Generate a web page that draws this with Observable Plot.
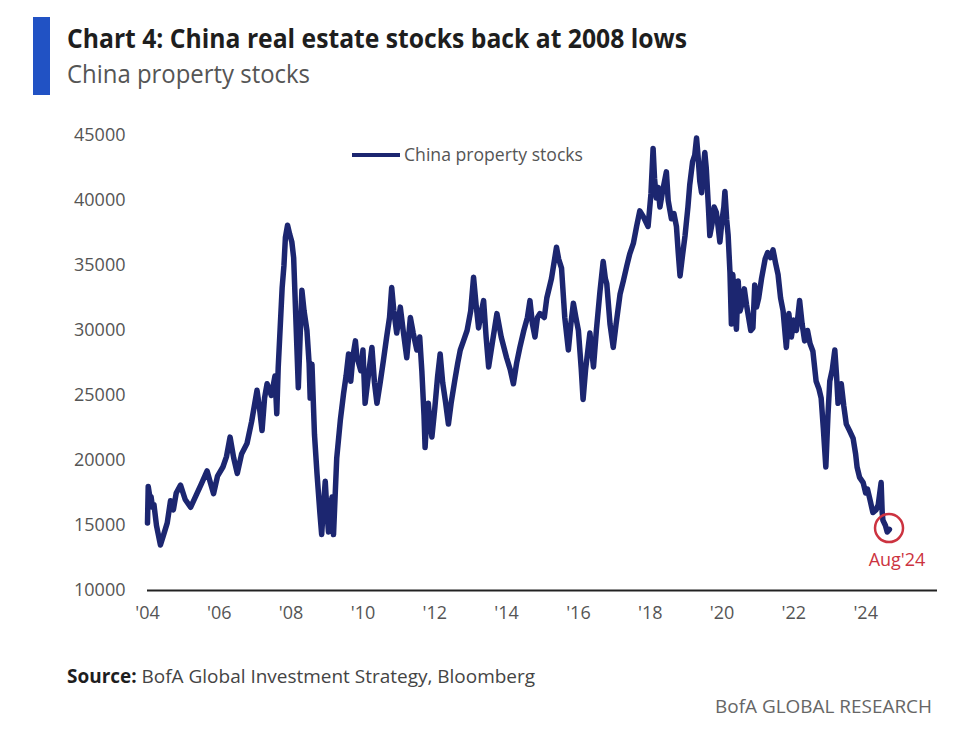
<!DOCTYPE html>
<html><head><meta charset="utf-8">
<script src="https://cdn.jsdelivr.net/npm/d3@7"></script>
<script src="https://cdn.jsdelivr.net/npm/@observablehq/plot@0.6"></script>
<style>
body{margin:0;background:#fff;font-family:"Open Sans",sans-serif;}
#wrap{position:relative;width:974px;height:744px;overflow:hidden;background:#fff;}
.abs{position:absolute;white-space:nowrap;line-height:1;transform-origin:0 50%;display:inline-block;}
#bar{position:absolute;left:33px;top:17px;width:17px;height:78px;background:#2152c4;}
#title{left:67px;top:24px;font-size:27px;font-weight:700;color:#1e1e1e;}
#subtitle{left:67px;top:61px;font-size:25px;color:#555;}
#legline{position:absolute;left:352px;top:153px;width:48px;height:4px;background:#1c2670;}
#legtext{left:404px;top:145px;font-size:19px;color:#555;}
#source{left:67px;top:667px;font-size:19px;color:#444;}
#source b{color:#1e1e1e;}
#brand{left:715px;top:697px;font-size:19px;color:#666;}
#chart{position:absolute;left:0;top:120px;}
</style></head><body><div id="wrap">
<div id="bar"></div>
<div id="title" class="abs">Chart 4: China real estate stocks back at 2008 lows</div>
<div id="subtitle" class="abs">China property stocks</div>
<div id="chart"></div>
<div id="legline"></div>
<div id="legtext" class="abs">China property stocks</div>
<div id="source" class="abs"><b>Source:</b> BofA Global Investment Strategy, Bloomberg</div>
<div id="brand" class="abs">BofA GLOBAL RESEARCH</div>
</div>
<script>
// Series: decimal year and index level
const years = [
2004.00,2004.02,2004.06,2004.10,2004.14,2004.18,2004.25,2004.36,2004.45,2004.55,2004.64,2004.72,2004.80,2004.92,
2005.05,2005.20,2005.35,2005.50,2005.66,2005.75,2005.84,2005.95,
2006.10,2006.20,2006.30,2006.40,2006.50,2006.62,2006.77,2006.90,
2007.05,2007.12,2007.19,2007.26,2007.33,2007.45,2007.55,2007.60,2007.64,2007.75,2007.80,2007.84,2007.90,2007.96,
2008.02,2008.07,2008.13,2008.20,2008.25,2008.30,2008.36,2008.44,2008.50,2008.53,2008.58,2008.65,2008.72,2008.80,2008.85,2008.90,2008.95,
2009.00,2009.04,2009.10,2009.14,2009.18,2009.27,2009.37,2009.46,2009.53,2009.60,2009.66,2009.72,2009.79,2009.83,2009.88,2009.94,
2010.00,2010.06,2010.15,2010.25,2010.32,2010.39,2010.48,2010.57,2010.66,2010.74,2010.80,2010.86,2010.94,
2011.04,2011.12,2011.22,2011.32,2011.40,2011.50,2011.58,2011.64,2011.70,2011.73,2011.78,2011.82,2011.86,2011.92,
2012.00,2012.08,2012.15,2012.22,2012.30,2012.38,2012.46,2012.56,2012.64,2012.71,2012.80,2012.90,
2013.00,2013.08,2013.15,2013.22,2013.30,2013.36,2013.43,2013.50,2013.60,2013.73,2013.85,
2014.00,2014.10,2014.19,2014.28,2014.37,2014.48,2014.58,2014.65,2014.72,2014.79,2014.86,2014.93,
2015.05,2015.12,2015.25,2015.39,2015.45,2015.53,2015.62,2015.72,2015.79,2015.86,2015.93,
2016.00,2016.08,2016.13,2016.20,2016.32,2016.42,2016.50,2016.60,2016.69,2016.75,2016.79,2016.88,2016.97,
2017.05,2017.16,2017.25,2017.35,2017.43,2017.53,2017.62,2017.71,2017.80,2017.94,
2018.02,2018.08,2018.12,2018.17,2018.22,2018.27,2018.35,2018.45,2018.50,2018.59,2018.66,2018.73,2018.78,2018.83,2018.90,2018.97,
2019.05,2019.10,2019.18,2019.24,2019.29,2019.33,2019.38,2019.43,2019.48,2019.52,2019.56,2019.62,2019.66,2019.72,2019.78,2019.84,2019.89,2019.94,
2020.00,2020.05,2020.08,2020.13,2020.17,2020.22,2020.26,2020.30,2020.35,2020.40,2020.45,2020.50,2020.55,2020.62,2020.68,2020.74,2020.80,2020.86,2020.91,2020.96,
2021.02,2021.10,2021.20,2021.27,2021.35,2021.42,2021.49,2021.56,2021.63,2021.70,2021.79,2021.86,2021.93,
2022.00,2022.07,2022.16,2022.23,2022.30,2022.38,2022.45,2022.53,2022.62,2022.70,2022.76,2022.82,2022.89,2022.95,
2023.00,2023.07,2023.14,2023.19,2023.23,2023.32,2023.39,2023.46,2023.55,2023.65,2023.72,2023.76,2023.83,2023.93,
2024.00,2024.05,2024.11,2024.20,2024.29,2024.35,2024.43,2024.46,2024.48,2024.55,2024.60,2024.66
];
const values = [
15200,18000,17300,17200,16400,16600,15000,13500,14300,15200,16900,16200,17500,18100,
17000,16400,17300,18200,19200,18300,17450,18800,
19500,20300,21800,20200,19000,20500,21300,23000,
25400,24000,22300,24800,25900,25000,26500,23600,27150,33300,35000,37150,38100,37400,
36800,35600,31000,25600,29500,33100,31500,30000,27500,24800,27400,22000,19000,16000,14300,16500,18400,
16000,14500,16500,17200,14300,20200,23100,25150,26500,28200,26100,28000,29200,28000,27500,26900,
28500,24400,26500,28700,26000,24400,26000,27700,29500,31000,33300,31500,29800,
31800,30000,27900,31000,29800,28500,29500,26900,23500,21000,23500,24400,23000,21800,
24000,26500,28200,26000,24500,22800,24500,26200,27500,28500,29200,30000,
31500,34100,32000,30200,31500,32300,29500,27200,29000,31300,29500,
27900,27000,25900,27500,28700,30000,31000,32300,30500,29500,31000,31300,
31000,32500,34000,36400,35500,34800,31000,28500,30500,32100,31000,
30000,27000,24700,27000,29800,27200,30000,33000,35300,34000,33600,30500,28700,
30500,32800,33800,35000,35900,36700,38000,39200,38800,38000,
40500,44000,41700,40200,41000,39500,40800,42200,40000,38600,39000,38000,36000,34200,35800,37300,
39500,41200,43000,43500,44800,43500,41500,40600,42500,43700,42500,39500,37300,38200,39500,39100,38000,36800,
38500,39500,40700,38500,37300,34500,30500,34300,32000,30100,33800,31500,32000,33200,32000,31000,30000,30200,33500,31800,
32500,34000,35500,36000,35600,36200,35200,34300,32500,31500,28700,31300,29500,
30800,30000,32300,30500,29200,30000,29000,28400,26100,25500,24800,22500,19500,23500,
26100,27000,28500,26500,24400,25900,24200,22800,22300,21700,20500,19500,18700,18300,
17500,17800,17100,16000,16200,16600,18300,16000,15400,15000,14500,14700
];
const yTicks = [10000,15000,20000,25000,30000,35000,40000,45000];
const xTicks = [2004,2006,2008,2010,2012,2014,2016,2018,2020,2022,2024];
const xTickLabels = ["'04","'06","'08","'10","'12","'14","'16","'18","'20","'22","'24"];
const annYear = [2024.65];
const annValue = [14800];
const annLabel = ["Aug'24"];

const data = years.map((y,i)=>({year:y, value:values[i]}));
const ann = annYear.map((y,i)=>({year:y, value:annValue[i], label:annLabel[i]}));
const red = "#cc3340";

const chart = Plot.plot({
  width: 974, height: 520,
  marginLeft: 147, marginRight: 37, marginTop: 15, marginBottom: 50,
  style: {fontFamily: "'Open Sans', sans-serif", fontSize: "18px", color: "#555", background: "transparent"},
  x: {domain: [2004, 2026], ticks: xTicks, tickFormat: d => xTickLabels[xTicks.indexOf(d)], tickSize: 0, tickPadding: 16, label: null},
  y: {domain: [10000, 45000], ticks: yTicks, tickFormat: d => String(d), tickSize: 0, tickPadding: 22, label: null},
  marks: [
    Plot.ruleY([10000], {stroke: "#222", strokeWidth: 2}),
    Plot.line(data, {x: "year", y: "value", stroke: "#1c2670", strokeWidth: 5.5, strokeLinejoin: "round", strokeLinecap: "round"}),
    Plot.dot(ann, {x: "year", y: "value", r: 14, stroke: red, strokeWidth: 2.5, fill: "none"}),
    Plot.text(ann, {x: "year", y: "value", text: "label", dy: 32, dx: 8, fill: red, fontSize: 18})
  ]
});
document.getElementById("chart").appendChild(chart);

function fit(id, w){
  const el = document.getElementById(id);
  const cw = el.getBoundingClientRect().width;
  if (cw > 0) el.style.transform = `scaleX(${w/cw})`;
}
fit("title", 620);
fit("subtitle", 243);
fit("legtext", 179);
fit("source", 468);
fit("brand", 217);
</script>
</body></html>
